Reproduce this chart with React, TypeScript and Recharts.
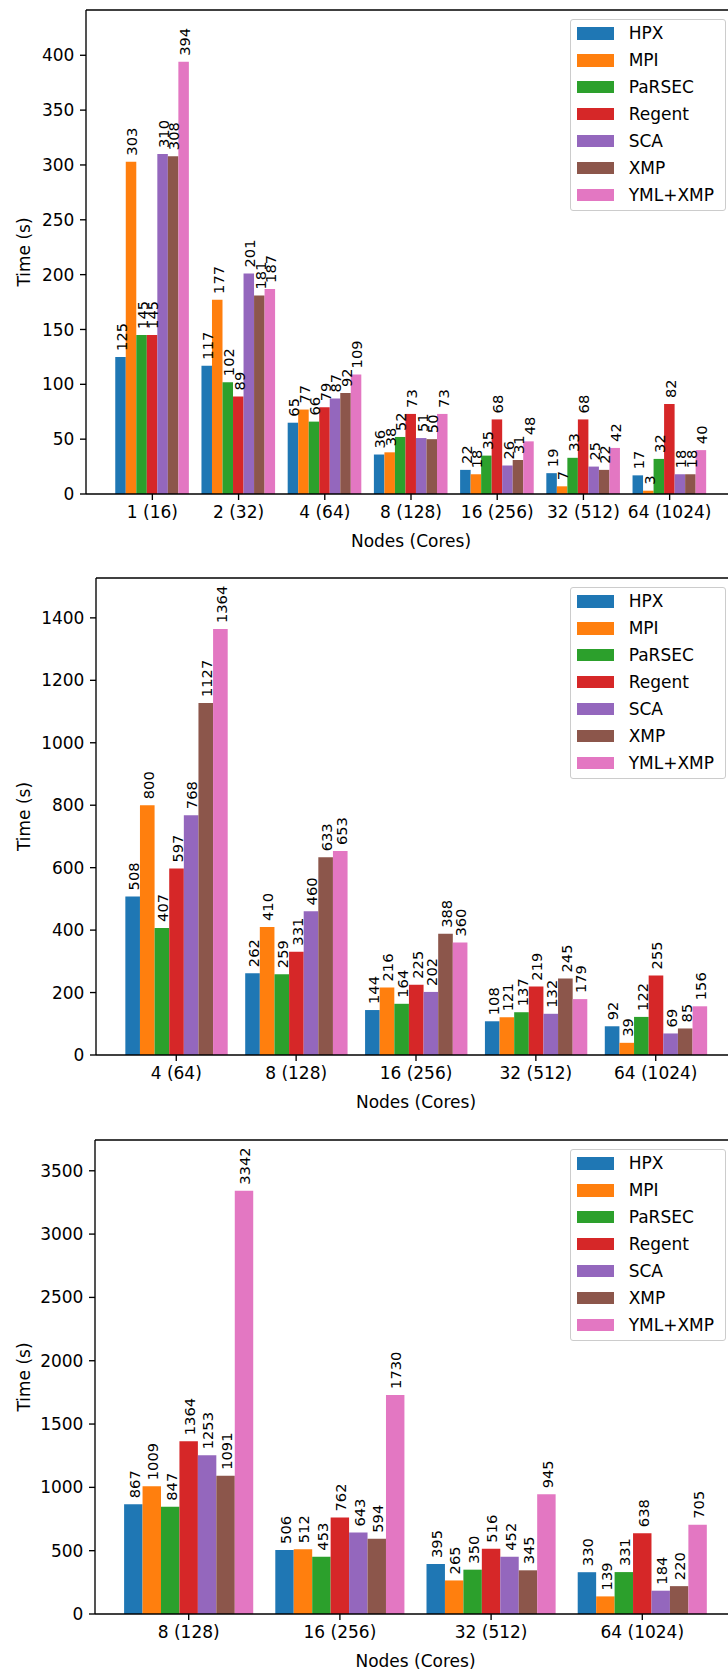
import React from 'react';
import { BarChart, Bar, XAxis, YAxis, LabelList, ReferenceLine } from 'recharts';

const SERIES = ['HPX', 'MPI', 'PaRSEC', 'Regent', 'SCA', 'XMP', 'YML+XMP'];
const COLORS = ['#1f77b4', '#ff7f0e', '#2ca02c', '#d62728', '#9467bd', '#8c564b', '#e377c2'];

// Chart 1
const cats1 = ['1 (16)', '2 (32)', '4 (64)', '8 (128)', '16 (256)', '32 (512)', '64 (1024)'];
const hpx1 = [125, 117, 65, 36, 22, 19, 17];
const mpi1 = [303, 177, 77, 38, 18, 7, 3];
const parsec1 = [145, 102, 66, 52, 35, 33, 32];
const regent1 = [145, 89, 79, 73, 68, 68, 82];
const sca1 = [310, 201, 87, 51, 26, 25, 18];
const xmp1 = [308, 181, 92, 50, 31, 22, 18];
const yml1 = [394, 187, 109, 73, 48, 42, 40];
const ticks1 = [0, 50, 100, 150, 200, 250, 300, 350, 400];

// Chart 2
const cats2 = ['4 (64)', '8 (128)', '16 (256)', '32 (512)', '64 (1024)'];
const hpx2 = [508, 262, 144, 108, 92];
const mpi2 = [800, 410, 216, 121, 39];
const parsec2 = [407, 259, 164, 137, 122];
const regent2 = [597, 331, 225, 219, 255];
const sca2 = [768, 460, 202, 132, 69];
const xmp2 = [1127, 633, 388, 245, 85];
const yml2 = [1364, 653, 360, 179, 156];
const ticks2 = [0, 200, 400, 600, 800, 1000, 1200, 1400];

// Chart 3
const cats3 = ['8 (128)', '16 (256)', '32 (512)', '64 (1024)'];
const hpx3 = [867, 506, 395, 330];
const mpi3 = [1009, 512, 265, 139];
const parsec3 = [847, 453, 350, 331];
const regent3 = [1364, 762, 516, 638];
const sca3 = [1253, 643, 452, 184];
const xmp3 = [1091, 594, 345, 220];
const yml3 = [3342, 1730, 945, 705];
const ticks3 = [0, 500, 1000, 1500, 2000, 2500, 3000, 3500];

const FONT = '"DejaVu Sans", sans-serif';
const INK = '#000';

function buildRows(cats: string[], cols: number[][]) {
  return cats.map((c, i) => {
    const row: any = { name: c };
    cols.forEach((col, k) => {
      row['s' + k] = col[i];
    });
    return row;
  });
}

const renderValueLabel = (props: any) => {
  const vb = props.viewBox || {};
  const x = Number(props.x ?? vb.x);
  const y = Number(props.y ?? vb.y);
  const width = Number(props.width ?? vb.width);
  const cx = x + width / 2 + 0.8;
  const ty = y - 6;
  return (
    <text
      x={cx}
      y={ty}
      transform={`rotate(-90 ${cx} ${ty})`}
      textAnchor="start"
      dominantBaseline="central"
      fontSize={14.7}
      fontFamily={FONT}
      fill={INK}
    >
      {props.value}
    </text>
  );
};

function Legend7({ left, top }: { left: number; top: number }) {
  return (
    <div
      style={{
        position: 'absolute',
        left,
        top,
        width: 156,
        height: 192,
        boxSizing: 'border-box',
        border: '1.35px solid #cccccc',
        borderRadius: 3,
        background: 'rgba(255,255,255,0.8)',
        fontFamily: FONT,
        fontSize: 17,
        color: INK,
      }}
    >
      {SERIES.map((s, k) => (
        <div key={s} style={{ height: 26.9, display: 'flex', alignItems: 'center' }}>
          <div style={{ marginLeft: 5.7, width: 37, height: 12.5, background: COLORS[k] }} />
          <div style={{ marginLeft: 15, lineHeight: '20px', whiteSpace: 'nowrap' }}>{s}</div>
        </div>
      ))}
    </div>
  );
}

type PanelProps = {
  top: number;
  height: number;
  frameTop: number;
  frameBottom: number;
  frameLeft: number;
  cats: string[];
  cols: number[][];
  yMax: number;
  ticks: number[];
};

function Panel({ top, height, frameTop, frameBottom, frameLeft, cats, cols, yMax, ticks }: PanelProps) {
  const chartWidth = 740;
  const frameRight = 736;
  const W = frameRight - frameLeft;
  const n = cats.length;
  const w = 0.122;
  const half = 3.5 * w + 0.05 * (n - 1 + 7 * w);
  const units = n - 1 + 2 * half;
  const s = W / units;
  const pad = (half - 0.5) * s;
  const barSize = w * s;
  const data = buildRows(cats, cols);
  const marginTop = frameTop - top;
  const xAxisHeight = top + height - frameBottom;

  return (
    <div style={{ position: 'absolute', left: 0, top, width: chartWidth, height }}>
      <BarChart
        width={chartWidth}
        height={height}
        data={data}
        margin={{ top: marginTop, right: chartWidth - frameRight, bottom: 0, left: 0 }}
        barGap={0}
        barSize={barSize}
      >
        <XAxis
          dataKey="name"
          interval={0}
          padding={{ left: pad, right: pad }}
          height={xAxisHeight}
          stroke={INK}
          axisLine={{ stroke: INK, strokeWidth: 1.35 }}
          tickLine={{ stroke: INK, strokeWidth: 1.35 }}
          tickSize={6}
          tickMargin={5.6}
          tick={{ fill: INK, fontSize: 17, fontFamily: FONT }}
          label={{
            content: (p: any) => {
              const vb = p.viewBox || {};
              return (
                <text
                  x={vb.x + vb.width / 2}
                  y={vb.y + 47}
                  textAnchor="middle"
                  dominantBaseline="central"
                  fontSize={17}
                  fontFamily={FONT}
                  fill={INK}
                >
                  Nodes (Cores)
                </text>
              );
            },
          }}
        />
        <YAxis
          type="number"
          domain={[0, yMax]}
          ticks={ticks}
          interval={0}
          width={frameLeft}
          stroke={INK}
          axisLine={{ stroke: INK, strokeWidth: 1.35 }}
          tickLine={{ stroke: INK, strokeWidth: 1.35 }}
          tickSize={6}
          tickMargin={5.6}
          tick={{ fill: INK, fontSize: 17, fontFamily: FONT }}
          label={{
            content: (p: any) => {
              const vb = p.viewBox || {};
              const cy = vb.y + vb.height / 2;
              return (
                <text
                  x={24}
                  y={cy}
                  transform={`rotate(-90 24 ${cy})`}
                  textAnchor="middle"
                  dominantBaseline="central"
                  fontSize={17}
                  fontFamily={FONT}
                  fill={INK}
                >
                  Time (s)
                </text>
              );
            },
          }}
        />
        <ReferenceLine y={yMax} stroke={INK} strokeWidth={1.35} />
        {SERIES.map((name, k) => (
          <Bar key={name} dataKey={'s' + k} name={name} fill={COLORS[k]} isAnimationActive={false}>
            <LabelList dataKey={'s' + k} content={renderValueLabel} />
          </Bar>
        ))}
      </BarChart>
      <Legend7 left={570} top={frameTop - top + 9} />
    </div>
  );
}

export default function App() {
  return (
    <div
      style={{
        position: 'absolute',
        left: 0,
        top: 0,
        width: 728,
        height: 1673,
        overflow: 'hidden',
        background: '#fff',
      }}
    >
      <Panel
        top={0}
        height={560}
        frameTop={10}
        frameBottom={494}
        frameLeft={86}
        cats={cats1}
        cols={[hpx1, mpi1, parsec1, regent1, sca1, xmp1, yml1]}
        yMax={394 * 1.12}
        ticks={ticks1}
      />
      <Panel
        top={560}
        height={560}
        frameTop={578}
        frameBottom={1055}
        frameLeft={96}
        cats={cats2}
        cols={[hpx2, mpi2, parsec2, regent2, sca2, xmp2, yml2]}
        yMax={1364 * 1.12}
        ticks={ticks2}
      />
      <Panel
        top={1120}
        height={553}
        frameTop={1140}
        frameBottom={1614}
        frameLeft={95}
        cats={cats3}
        cols={[hpx3, mpi3, parsec3, regent3, sca3, xmp3, yml3]}
        yMax={3342 * 1.12}
        ticks={ticks3}
      />
    </div>
  );
}
